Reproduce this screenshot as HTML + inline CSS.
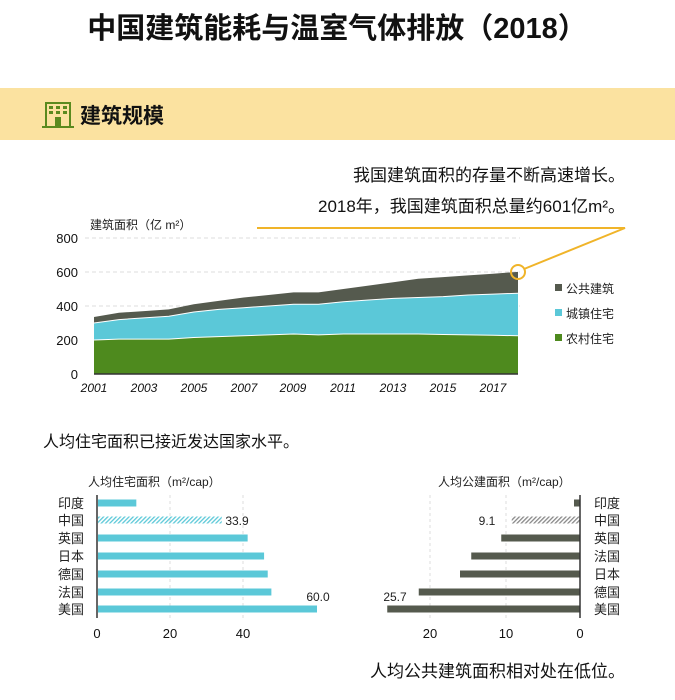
<!DOCTYPE html>
<html><head><meta charset="utf-8"><style>
body{margin:0;width:675px;height:695px;background:#fff;overflow:hidden;font-family:"Liberation Sans","Noto Sans CJK SC",sans-serif;}
svg text{font-family:"Liberation Sans","Noto Sans CJK SC",sans-serif;}
</style></head><body>
<svg id="s" width="675" height="695" xmlns="http://www.w3.org/2000/svg">
<defs><pattern id="h" width="3" height="3" patternUnits="userSpaceOnUse" patternTransform="rotate(45)"><rect width="1.3" height="3" fill="#888"/></pattern>
<pattern id="hb" width="3" height="3" patternUnits="userSpaceOnUse" patternTransform="rotate(45)"><rect width="1.3" height="3" fill="#5bc8d8"/></pattern></defs>
<text x="337" y="38" text-anchor="middle" font-size="29" font-weight="bold" fill="#111">中国建筑能耗与温室气体排放（2018）</text>
<rect x="0" y="88" width="675" height="52" fill="#fbe2a0"/>
<g fill="#5a8a1e"><rect x="46" y="103" width="24" height="24" fill="none" stroke="#5a8a1e" stroke-width="2"/>
<rect x="49" y="106" width="4" height="3"/><rect x="56" y="106" width="4" height="3"/><rect x="63" y="106" width="4" height="3"/>
<rect x="49" y="111" width="4" height="3"/><rect x="56" y="111" width="4" height="3"/><rect x="63" y="111" width="4" height="3"/>
<rect x="55" y="117" width="6" height="10"/><rect x="42" y="126" width="32" height="2"/></g>
<text x="80" y="123" font-size="21" font-weight="bold" fill="#111">建筑规模</text>
<text x="625" y="181" text-anchor="end" font-size="17" fill="#111">我国建筑面积的存量不断高速增长。</text>
<text x="625" y="212" text-anchor="end" font-size="17" fill="#111">2018年，我国建筑面积总量约601亿m²。</text>
<text x="90" y="229" font-size="12" fill="#222">建筑面积（亿 m²）</text>
<g stroke="#ddd" stroke-dasharray="4,3"><line x1="85" y1="238" x2="520" y2="238"/><line x1="85" y1="272" x2="520" y2="272"/><line x1="85" y1="306" x2="520" y2="306"/></g>
<g font-size="13" fill="#111" text-anchor="end"><text x="78" y="243">800</text><text x="78" y="277">600</text><text x="78" y="311">400</text><text x="78" y="345">200</text><text x="78" y="379">0</text></g>
<g id="areas"></g>
<line x1="94" y1="374" x2="518" y2="374" stroke="#333" stroke-width="1.5"/>
<g font-size="12" font-style="italic" fill="#111" text-anchor="middle">
<text x="94" y="392">2001</text><text x="144" y="392">2003</text><text x="194" y="392">2005</text><text x="244" y="392">2007</text><text x="293" y="392">2009</text><text x="343" y="392">2011</text><text x="393" y="392">2013</text><text x="443" y="392">2015</text><text x="493" y="392">2017</text></g>
<polyline points="257,228 625,228 524,269" fill="none" stroke="#f0b429" stroke-width="2"/>
<circle cx="518" cy="272" r="7" fill="none" stroke="#f0b429" stroke-width="2"/>
<rect x="555" y="284" width="7" height="7" fill="#555a4e"/><text x="566" y="293" font-size="12" fill="#222">公共建筑</text>
<rect x="555" y="309" width="7" height="7" fill="#5bc8d8"/><text x="566" y="318" font-size="12" fill="#222">城镇住宅</text>
<rect x="555" y="334" width="7" height="7" fill="#4e8a1e"/><text x="566" y="343" font-size="12" fill="#222">农村住宅</text>
<text x="43" y="447" font-size="16" fill="#111">人均住宅面积已接近发达国家水平。</text>
<text x="88" y="486" font-size="12" fill="#222">人均住宅面积（m²/cap）</text>
<text x="438" y="486" font-size="12" fill="#222">人均公建面积（m²/cap）</text>
<g stroke="#ddd" stroke-dasharray="3,3"><line x1="170" y1="495" x2="170" y2="618"/><line x1="243" y1="495" x2="243" y2="618"/><line x1="430" y1="495" x2="430" y2="618"/><line x1="506" y1="495" x2="506" y2="618"/></g>
<g id="bars"></g>
<line x1="97" y1="495" x2="97" y2="618" stroke="#333" stroke-width="1.5"/>
<line x1="580" y1="495" x2="580" y2="618" stroke="#333" stroke-width="1.5"/>
<g font-size="13" fill="#111" text-anchor="middle"><text x="97" y="638">0</text><text x="170" y="638">20</text><text x="243" y="638">40</text><text x="430" y="638">20</text><text x="506" y="638">10</text><text x="580" y="638">0</text></g>
<text x="237" y="525" font-size="12" fill="#222" text-anchor="middle">33.9</text>
<text x="318" y="601" font-size="12" fill="#222" text-anchor="middle">60.0</text>
<text x="487" y="525" font-size="12" fill="#222" text-anchor="middle">9.1</text>
<text x="395" y="601" font-size="12" fill="#222" text-anchor="middle">25.7</text>
<text x="625" y="677" text-anchor="end" font-size="17" fill="#111">人均公共建筑面积相对处在低位。</text>
</svg>
<script>
var tot=[335,360,370,380,410,430,450,465,480,480,500,520,540,560,570,580,590,601];
var urb=[300,320,330,340,365,380,390,400,410,410,425,435,445,450,455,465,470,475];
var rur=[200,205,205,205,215,220,225,230,235,230,235,235,235,235,232,230,228,225];
function X(i){return 94+i*(424/17)}function Y(v){return 374-v*0.17}
function poly(top,bot,c){var p=[];for(var i=0;i<18;i++)p.push(X(i)+","+Y(top[i]));for(var i=17;i>=0;i--)p.push(X(i)+","+Y(bot?bot[i]:0));return '<polygon points="'+p.join(" ")+'" fill="'+c+'"/>';}
function line(a){var p=[];for(var i=0;i<18;i++)p.push(X(i)+","+Y(a[i]));return '<polyline points="'+p.join(" ")+'" fill="none" stroke="#fff" stroke-width="1"/>';}
document.getElementById("areas").innerHTML=poly(tot,urb,"#555a4e")+poly(urb,rur,"#5bc8d8")+poly(rur,null,"#4e8a1e")+line(urb)+line(rur);
var ys=[503,520,538,556,574,592,609];
var L=[["印度",10.5],["中国",33.9],["英国",41],["日本",45.5],["德国",46.5],["法国",47.5],["美国",60]];
var R=[["印度",0.8],["中国",9.1],["英国",10.5],["法国",14.5],["日本",16],["德国",21.5],["美国",25.7]];
var h="";
for(var i=0;i<7;i++){var y=ys[i];
h+='<text x="58" y="'+(y+5)+'" font-size="13" fill="#222">'+L[i][0]+'</text>';
h+='<rect x="98" y="'+(y-3.5)+'" width="'+(L[i][1]*3.65)+'" height="7" fill="'+(i==1?'url(#hb)':'#5bc8d8')+'"/>';
h+='<text x="594" y="'+(y+5)+'" font-size="13" fill="#222">'+R[i][0]+'</text>';
var w=R[i][1]*7.5;h+='<rect x="'+(580-w)+'" y="'+(y-3.5)+'" width="'+w+'" height="7" fill="'+(i==1?'url(#h)':'#555a4e')+'"/>';}
document.getElementById("bars").innerHTML=h;
</script>
</body></html>
